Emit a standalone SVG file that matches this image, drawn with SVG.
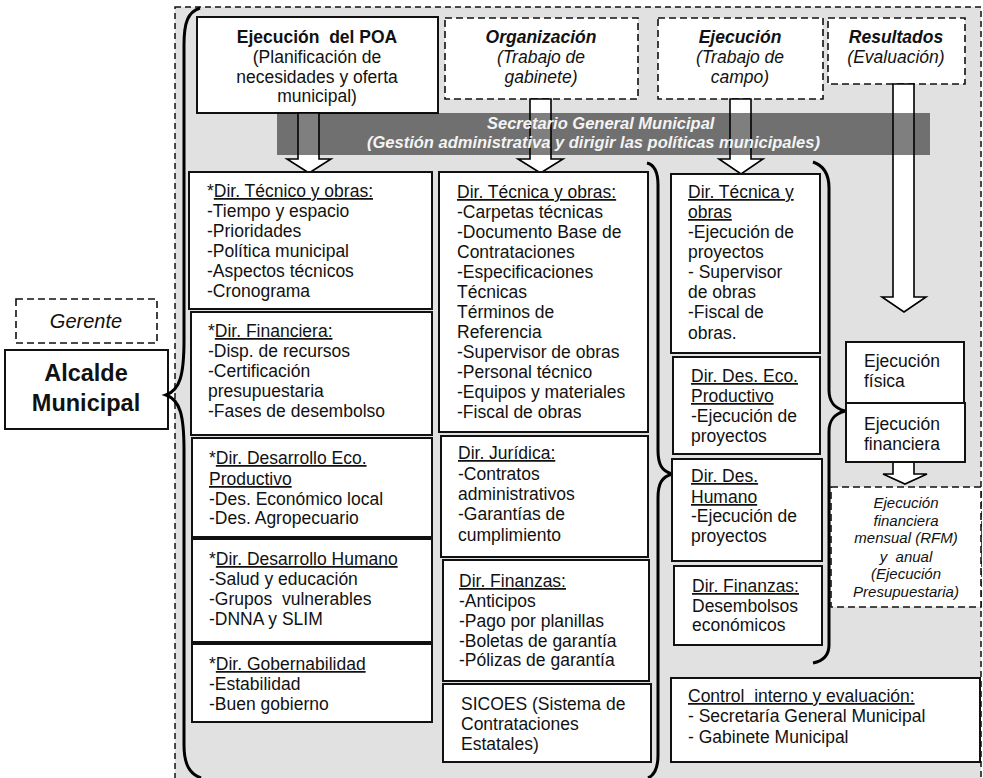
<svg xmlns="http://www.w3.org/2000/svg" width="983" height="778" viewBox="0 0 983 778">
<style>
text{font-family:"Liberation Sans",Arial,sans-serif;font-size:17.5px;fill:#111}
.b{font-weight:bold}
.i{font-style:italic}
.c{text-anchor:middle}
.u{text-decoration:underline}
.box{fill:#fff;stroke:#111;stroke-width:2}
.dash{fill:#fff;stroke:#111;stroke-width:1.6;stroke-dasharray:7 4}
.brace{fill:none;stroke:#000;stroke-width:3}
.arrow{fill:#fff;stroke:#000;stroke-width:1.6}
.ban{font-size:16.5px;font-weight:bold;font-style:italic;fill:#f4f4f4}
.sm{font-size:15px;font-style:italic}
</style>
<rect x="0" y="0" width="983" height="778" fill="#fff"/>
<rect x="175" y="7" width="806" height="780" fill="#e1e1e1" stroke="#111" stroke-width="1.5" stroke-dasharray="6 4"/>

<g id="gerente">
<rect class="dash" x="16" y="299" width="141" height="44"/>
<text class="i c" x="86" y="328" style="font-size:20px">Gerente</text>
</g>
<g id="alcalde">
<rect class="box" x="5" y="350" width="163" height="79"/>
<text class="b c" x="86" y="381" style="font-size:23.5px">Alcalde</text>
<text class="b c" x="86" y="411" style="font-size:23.5px">Municipal</text>
</g>

<g id="poa">
<rect class="box" x="197" y="17" width="241" height="96"/>
<text class="c" x="317"><tspan class="b" x="317" y="43" xml:space="preserve">Ejecución  del POA</tspan><tspan x="317" y="63">(Planificación de</tspan><tspan x="317" y="83">necesidades y oferta</tspan><tspan x="317" y="102">municipal)</tspan></text>
</g>
<g id="organizacion">
<rect class="dash" x="445" y="18" width="193" height="81"/>
<text class="c i" x="541"><tspan class="b" x="541" y="43">Organización</tspan><tspan x="541" y="63">(Trabajo de</tspan><tspan x="541" y="83">gabinete)</tspan></text>
</g>
<g id="ejecucion">
<rect class="dash" x="658" y="18" width="165" height="81"/>
<text class="c i" x="740"><tspan class="b" x="740" y="43">Ejecución</tspan><tspan x="740" y="63">(Trabajo de</tspan><tspan x="740" y="83">campo)</tspan></text>
</g>
<g id="resultados">
<rect class="dash" x="828" y="18" width="137" height="66"/>
<text class="c i" x="896"><tspan class="b" x="896" y="43">Resultados</tspan><tspan x="896" y="63">(Evaluación)</tspan></text>
</g>

<g id="connectors">
<path class="brace" d="M200 8 C188 12 184 22 184 45 L184 340 C184 375 180 390 166 395 C180 400 184 415 184 450 L184 745 C184 765 190 774 201 778"/>
<path class="brace" d="M647 163 C655 165 658 172 658 185 L658 450 C658 465 662 471 672 474 C662 477 658 483 658 498 L658 755 C658 768 655 775 648 778"/>
<path class="brace" d="M813 162 C822 165 829 172 829 188 L829 390 C829 402 834 408 845 411 C834 414 829 420 829 432 L829 645 C829 655 823 661 813 663"/>
<polygon class="arrow" points="298,113 319,113 319,159 331,159 309,173 287,159 298,159"/>
<polygon class="arrow" points="530,99 551,99 551,159 563,159 540.5,173 518,159 530,159"/>
<polygon class="arrow" points="730,99 751,99 751,159 763,159 741,174 719,159 730,159"/>
<polygon class="arrow" points="893,84 914,84 914,297 926,297 904,312 882,297 893,297"/>
<polygon class="arrow" points="893,462 914,462 914,474 927,474 905,484 883,474 893,474"/>
</g>

<g id="secretario">
<rect x="277" y="113" width="653" height="42" fill="#000" fill-opacity="0.5"/>
<text class="ban" x="487" y="129">Secretario General Municipal</text>
<text class="ban" x="367" y="148">(Gestión administrativa y dirigir las políticas municipales)</text>
</g>

<g id="dir-tecnico">
<rect class="box" x="189" y="172" width="243" height="137"/>
<text x="207"><tspan x="207" y="197">*<tspan class="u">Dir. Técnico y obras:</tspan></tspan><tspan x="207" y="217">-Tiempo y espacio</tspan><tspan x="207" y="237">-Prioridades</tspan><tspan x="207" y="257">-Política municipal</tspan><tspan x="207" y="277">-Aspectos técnicos</tspan><tspan x="207" y="297">-Cronograma</tspan></text>
</g>
<g id="dir-financiera">
<rect class="box" x="191" y="312" width="241" height="123"/>
<text x="208"><tspan x="208" y="337">*<tspan class="u">Dir. Financiera:</tspan></tspan><tspan x="208" y="357">-Disp. de recursos</tspan><tspan x="208" y="377">-Certificación</tspan><tspan x="208" y="397">presupuestaria</tspan><tspan x="208" y="417">-Fases de desembolso</tspan></text>
</g>
<g id="dir-eco">
<rect class="box" x="192" y="438" width="240" height="99"/>
<text x="209"><tspan x="209" y="464">*<tspan class="u">Dir. Desarrollo Eco.</tspan></tspan><tspan class="u" x="209" y="485">Productivo</tspan><tspan x="209" y="505">-Des. Económico local</tspan><tspan x="209" y="524">-Des. Agropecuario</tspan></text>
</g>
<g id="dir-humano">
<rect class="box" x="192" y="539" width="240" height="103"/>
<text x="209"><tspan x="209" y="565">*<tspan class="u">Dir. Desarrollo Humano</tspan></tspan><tspan x="209" y="585">-Salud y educación</tspan><tspan x="209" y="605" xml:space="preserve">-Grupos  vulnerables</tspan><tspan x="209" y="625">-DNNA y SLIM</tspan></text>
</g>
<g id="dir-gobernabilidad">
<rect class="box" x="192" y="644" width="240" height="78"/>
<text x="209"><tspan x="209" y="670">*<tspan class="u">Dir. Gobernabilidad</tspan></tspan><tspan x="209" y="690">-Estabilidad</tspan><tspan x="209" y="710">-Buen gobierno</tspan></text>
</g>

<g id="org-tecnica">
<rect class="box" x="439" y="172" width="209" height="260"/>
<text x="457"><tspan class="u" x="457" y="198">Dir. Técnica y obras:</tspan><tspan x="457" y="218">-Carpetas técnicas</tspan><tspan x="457" y="238">-Documento Base de</tspan><tspan x="457" y="258">Contrataciones</tspan><tspan x="457" y="278">-Especificaciones</tspan><tspan x="457" y="298">Técnicas</tspan><tspan x="457" y="318">Términos de</tspan><tspan x="457" y="338">Referencia</tspan><tspan x="457" y="358">-Supervisor de obras</tspan><tspan x="457" y="378">-Personal técnico</tspan><tspan x="457" y="398">-Equipos y materiales</tspan><tspan x="457" y="418">-Fiscal de obras</tspan></text>
</g>
<g id="org-juridica">
<rect class="box" x="441" y="436" width="207" height="121"/>
<text x="458"><tspan class="u" x="458" y="459">Dir. Jurídica:</tspan><tspan x="458" y="480">-Contratos</tspan><tspan x="458" y="500">administrativos</tspan><tspan x="458" y="520">-Garantías de</tspan><tspan x="458" y="541">cumplimiento</tspan></text>
</g>
<g id="org-finanzas">
<rect class="box" x="443" y="560" width="206" height="121"/>
<text x="459"><tspan class="u" x="459" y="587">Dir. Finanzas:</tspan><tspan x="459" y="607">-Anticipos</tspan><tspan x="459" y="627">-Pago por planillas</tspan><tspan x="459" y="647">-Boletas de garantía</tspan><tspan x="459" y="666">-Pólizas de garantía</tspan></text>
</g>
<g id="org-sicoes">
<rect class="box" x="443" y="684" width="208" height="78"/>
<text x="461"><tspan x="461" y="710">SICOES (Sistema de</tspan><tspan x="461" y="730">Contrataciones</tspan><tspan x="461" y="750">Estatales)</tspan></text>
</g>

<g id="eje-tecnica">
<rect class="box" x="671" y="174" width="149" height="179"/>
<text x="688"><tspan class="u" x="688" y="198">Dir. Técnica y</tspan><tspan class="u" x="688" y="218">obras</tspan><tspan x="688" y="238">-Ejecución de</tspan><tspan x="688" y="258">proyectos</tspan><tspan x="688" y="278">- Supervisor</tspan><tspan x="688" y="298">de obras</tspan><tspan x="688" y="318">-Fiscal de</tspan><tspan x="688" y="339">obras.</tspan></text>
</g>
<g id="eje-eco">
<rect class="box" x="673" y="357" width="147" height="97"/>
<text x="691"><tspan class="u" x="691" y="382">Dir. Des. Eco.</tspan><tspan class="u" x="691" y="402">Productivo</tspan><tspan x="691" y="422">-Ejecución de</tspan><tspan x="691" y="442">proyectos</tspan></text>
</g>
<g id="eje-humano">
<rect class="box" x="672" y="459" width="150" height="102"/>
<text x="691"><tspan class="u" x="691" y="482">Dir. Des.</tspan><tspan class="u" x="691" y="503">Humano</tspan><tspan x="691" y="522">-Ejecución de</tspan><tspan x="691" y="542">proyectos</tspan></text>
</g>
<g id="eje-finanzas">
<rect class="box" x="674" y="566" width="148" height="79"/>
<text x="692"><tspan class="u" x="692" y="592">Dir. Finanzas:</tspan><tspan x="692" y="612">Desembolsos</tspan><tspan x="692" y="631">económicos</tspan></text>
</g>

<g id="ejec-fisica">
<rect class="box" x="846" y="342" width="118" height="61"/>
<text x="864"><tspan x="864" y="367">Ejecución</tspan><tspan x="864" y="387">física</tspan></text>
</g>
<g id="ejec-financiera">
<rect class="box" x="846" y="403" width="119" height="59"/>
<text x="864"><tspan x="864" y="430">Ejecución</tspan><tspan x="864" y="450">financiera</tspan></text>
</g>
<g id="ejec-mensual">
<rect class="dash" x="831" y="487" width="150" height="120"/>
<text class="sm c" x="906"><tspan x="906" y="508">Ejecución</tspan><tspan x="906" y="526">financiera</tspan><tspan x="906" y="543">mensual (RFM)</tspan><tspan x="906" y="562" xml:space="preserve">y  anual</tspan><tspan x="906" y="579">(Ejecución</tspan><tspan x="906" y="597">Presupuestaria)</tspan></text>
</g>
<g id="control">
<rect class="box" x="671" y="678" width="309" height="84"/>
<text x="688"><tspan class="u" x="688" y="702" xml:space="preserve">Control  interno y evaluación:</tspan><tspan x="688" y="722">- Secretaría General Municipal</tspan><tspan x="688" y="743">- Gabinete Municipal</tspan></text>
</g>
</svg>
